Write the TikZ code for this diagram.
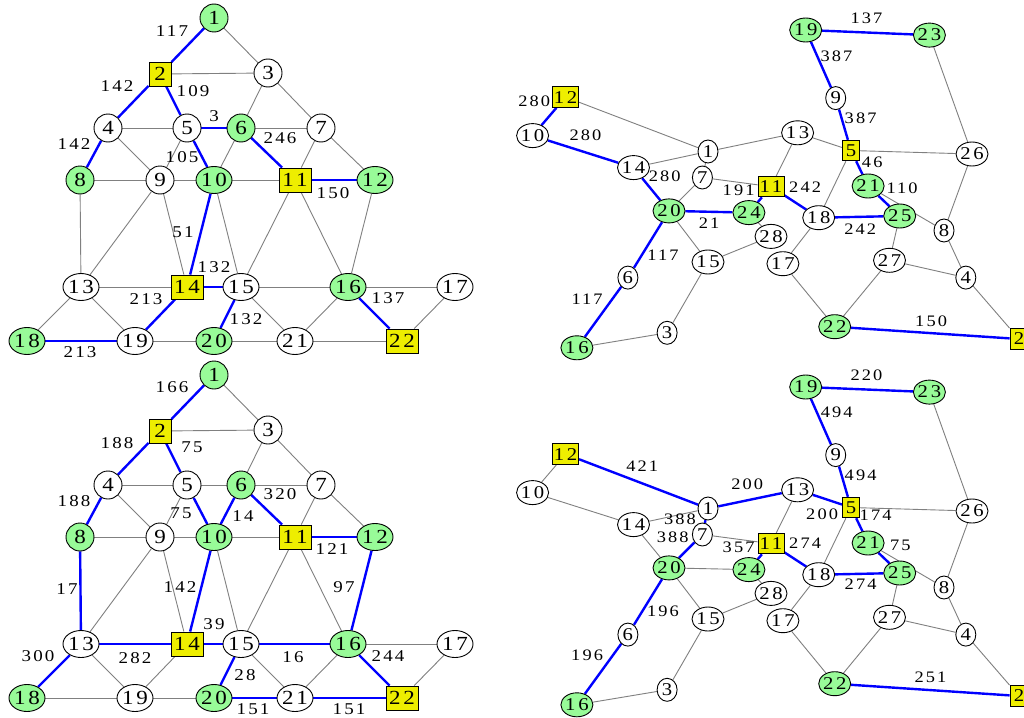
\documentclass[tikz,border=0pt]{standalone}
\usepackage{fontspec}
\setmainfont{Liberation Serif}
\newfontfamily\nfont[FakeStretch=1.15,LetterSpace=15]{Liberation Serif}
\newfontfamily\efont[FakeStretch=1.15,LetterSpace=13]{Liberation Serif}
\usetikzlibrary{shapes.geometric,backgrounds}
\definecolor{pg}{RGB}{152,251,152}
\definecolor{yl}{RGB}{238,238,0}
\definecolor{eg}{RGB}{128,128,128}
\tikzset{
  base/.style={draw=black, line width=0.9pt, inner sep=0pt},
  Lfont/.style={font=\nfont\fontsize{20pt}{20pt}\selectfont},
  Rfont/.style={font=\nfont\fontsize{18pt}{18pt}\selectfont},
  lw/.style={base, Lfont, circle, minimum size=28pt, fill=white},
  lg/.style={lw, fill=pg},
  lwe/.style={base, Lfont, ellipse, minimum width=36pt, minimum height=27pt, fill=white, inner xsep=-1pt},
  lge/.style={lwe, fill=pg},
  lys/.style={base, Lfont, rectangle, minimum width=22pt, minimum height=24pt, fill=yl},
  lyr/.style={lys, minimum width=32pt},
  rw/.style={base, Rfont, ellipse, minimum width=20pt, minimum height=23pt, fill=white, inner xsep=-1.5pt},
  rwe/.style={rw, minimum width=32pt, minimum height=24pt},
  rge/.style={rwe, fill=pg},
  rys/.style={base, Rfont, rectangle, minimum width=17pt, minimum height=20.5pt, fill=yl},
  ryr/.style={rys, minimum width=26pt},
  gedge/.style={draw=eg, line width=0.9pt},
  bedge/.style={draw=blue, line width=2.4pt},
  lab/.style={font=\efont\fontsize{16.5pt}{16.5pt}\selectfont, inner sep=0pt, text=black},
  rlab/.style={font=\efont\fontsize{16pt}{16pt}\selectfont, inner sep=0pt, text=black}
}
\newcommand\LeftNodes[1]{%
  \node[lg]  (#1-1)  at (214,18)  {1};
  \node[lys] (#1-2)  at (160,74)  {2};
  \node[lw]  (#1-3)  at (268,73)  {3};
  \node[lw]  (#1-4)  at (108,128) {4};
  \node[lw]  (#1-5)  at (187,128) {5};
  \node[lg]  (#1-6)  at (241,128) {6};
  \node[lw]  (#1-7)  at (321,128) {7};
  \node[lg]  (#1-8)  at (80,180)  {8};
  \node[lw]  (#1-9)  at (160,180) {9};
  \node[lge] (#1-10) at (214,180) {10};
  \node[lyr] (#1-11) at (295,180) {11};
  \node[lge] (#1-12) at (375,180) {12};
  \node[lwe] (#1-13) at (81,287)  {13};
  \node[lyr] (#1-14) at (187,287) {14};
  \node[lwe] (#1-15) at (241,287) {15};
  \node[lge] (#1-16) at (348,287) {16};
  \node[lwe] (#1-17) at (455,287) {17};
  \node[lge] (#1-18) at (27,341)  {18};
  \node[lwe] (#1-19) at (135,341) {19};
  \node[lge] (#1-20) at (214,341) {20};
  \node[lwe] (#1-21) at (295,341) {21};
  \node[lyr] (#1-22) at (402,341) {22};
}
\newcommand\RightNodes[1]{%
  \node[rge] (#1-19) at (805.7,30)    {19};
  \node[rge] (#1-23) at (929.4,35.1)  {23};
  \node[rw]  (#1-9)  at (835.7,98.1)  {9};
  \node[ryr] (#1-12) at (565.6,97.1)  {12};
  \node[rwe] (#1-10) at (532.6,135.6) {10};
  \node[rwe] (#1-13) at (797.6,132.8) {13};
  \node[rw]  (#1-1)  at (708,151.5)   {1};
  \node[rys] (#1-5)  at (851,150.5)   {5};
  \node[rwe] (#1-26) at (972,154)     {26};
  \node[rwe] (#1-14) at (633.5,167.6) {14};
  \node[rw]  (#1-7)  at (702.4,177.5) {7};
  \node[ryr] (#1-11) at (771,186.6)   {11};
  \node[rge] (#1-21) at (868.1,186)   {21};
  \node[rge] (#1-20) at (669,210.9)   {20};
  \node[rge] (#1-24) at (748.9,212.6) {24};
  \node[rwe] (#1-18) at (818.7,217.7) {18};
  \node[rge] (#1-25) at (899.7,216)   {25};
  \node[rwe] (#1-28) at (771,236.4)   {28};
  \node[rw]  (#1-8)  at (944,230.5)   {8};
  \node[rwe] (#1-15) at (708,262)     {15};
  \node[rwe] (#1-17) at (782.9,263.7) {17};
  \node[rwe] (#1-27) at (889.5,260.3) {27};
  \node[rw]  (#1-4)  at (965.8,277.6) {4};
  \node[rw]  (#1-6)  at (627.9,277.6) {6};
  \node[rw]  (#1-3)  at (667.1,332.8) {3};
  \node[rge] (#1-22) at (834.7,326.7) {22};
  \node[rge] (#1-16) at (576.9,347.8) {16};
  \node[rys, minimum width=18pt, minimum height=21pt] (#1-2) at (1019,339) {2};
}
\begin{document}
\begin{tikzpicture}[x=1pt,y=-1pt]
\useasboundingbox (0,0) rectangle (1024,717);
\begin{pgfonlayer}{background}
  \fill[white] (0,0) rectangle (1024,717);
\end{pgfonlayer}
\clip (0,0) rectangle (1024,717);
% nodes
\LeftNodes{a}
\begin{scope}[yshift=-357pt]\LeftNodes{c}\end{scope}
\RightNodes{b}
\begin{scope}[yshift=-357pt]\RightNodes{d}\end{scope}
% edges
\begin{scope}[on background layer]
  % top left
  \foreach \u/\v in {1/3,2/3,3/6,3/7,4/5,4/9,5/9,6/7,6/10,7/11,7/12,8/9,8/13,9/10,9/13,9/14,10/11,10/15,11/15,11/16,12/16,13/14,13/18,13/19,15/16,15/21,16/17,16/21,17/22,19/20,20/21,21/22}
    \draw[gedge] (a-\u) -- (a-\v);
  \foreach \u/\v in {1/2,2/4,2/5,4/8,5/6,5/10,6/11,10/14,11/12,14/15,14/19,15/20,16/22,18/19}
    \draw[bedge] (a-\u) -- (a-\v);
  % bottom left
  \foreach \u/\v in {1/3,2/3,3/6,3/7,4/5,4/9,5/6,5/9,6/7,7/11,7/12,8/9,9/10,9/13,9/14,10/11,10/15,11/15,11/16,13/19,14/19,15/21,16/17,16/21,17/22,18/19,19/20}
    \draw[gedge] (c-\u) -- (c-\v);
  \foreach \u/\v in {1/2,2/4,2/5,4/8,5/10,6/10,6/11,11/12,8/13,10/14,13/14,14/15,15/16,12/16,13/18,15/20,20/21,21/22,16/22}
    \draw[bedge] (c-\u) -- (c-\v);
  % top right
  \foreach \u/\v in {23/26,12/1,14/1,1/13,13/5,13/11,5/26,5/18,1/7,7/11,7/20,21/8,24/28,28/15,20/15,15/3,3/16,18/17,17/22,22/27,27/25,27/4,4/8,8/26,4/2}
    \draw[gedge] (b-\u) -- (b-\v);
  \foreach \u/\v in {19/23,19/9,9/5,12/10,10/14,14/20,5/21,20/24,24/11,11/18,18/25,21/25,16/6,6/20,22/2}
    \draw[bedge] (b-\u) -- (b-\v);
  % bottom right
  \foreach \u/\v in {12/10,10/14,14/1,23/26,5/26,13/11,5/18,7/11,14/20,20/24,24/28,28/15,20/15,15/3,3/16,18/17,17/22,22/27,27/25,27/4,4/8,8/26,21/8,4/2}
    \draw[gedge] (d-\u) -- (d-\v);
  \foreach \u/\v in {12/1,1/13,13/5,19/9,9/5,19/23,5/21,21/25,11/18,18/25,11/24,1/7,7/20,20/6,6/16,22/2}
    \draw[bedge] (d-\u) -- (d-\v);
\end{scope}
% edge labels, top left
\node[lab] (al1)  at (172,31)  {117};
\node[lab] (al2)  at (117,86)  {142};
\node[lab] (al3)  at (193,91)  {109};
\node[lab] (al4)  at (214,116) {3};
\node[lab] (al5)  at (280,138) {246};
\node[lab] (al6)  at (74,144)  {142};
\node[lab] (al7)  at (182,157) {105};
\node[lab] (al8)  at (333,193) {150};
\node[lab] (al9)  at (183,232) {51};
\node[lab] (al10) at (214,267) {132};
\node[lab] (al11) at (146,299) {213};
\node[lab] (al12) at (388,298) {137};
\node[lab] (al13) at (246,319) {132};
\node[lab] (al14) at (80,352)  {213};
% edge labels, bottom left
\node[lab] (cl1)  at (172,387) {166};
\node[lab] (cl2)  at (117,443) {188};
\node[lab] (cl3)  at (192,447) {75};
\node[lab] (cl4)  at (280,494) {320};
\node[lab] (cl5)  at (74,501)  {188};
\node[lab] (cl6)  at (181,513) {75};
\node[lab] (cl7)  at (243,516) {14};
\node[lab] (cl8)  at (332,549) {121};
\node[lab] (cl9)  at (67,589)  {17};
\node[lab] (cl10) at (180,587) {142};
\node[lab] (cl11) at (344,587) {97};
\node[lab] (cl12) at (214,624) {39};
\node[lab] (cl13) at (38,656)  {300};
\node[lab] (cl14) at (135,658) {282};
\node[lab] (cl15) at (293,657) {16};
\node[lab] (cl16) at (388,656) {244};
\node[lab] (cl17) at (245,675) {28};
\node[lab] (cl18) at (253,709) {151};
\node[lab] (cl19) at (349,709) {151};
% edge labels, top right
\node[rlab] (bl1)  at (866.4,18.7)  {137};
\node[rlab] (bl2)  at (836.4,56.2)  {387};
\node[rlab] (bl3)  at (860.6,118.5) {387};
\node[rlab] (bl4)  at (534.3,101.5) {280};
\node[rlab] (bl5)  at (585.4,135.6) {280};
\node[rlab] (bl6)  at (664.7,176.1) {280};
\node[rlab] (bl7)  at (872.2,162.5) {46};
\node[rlab] (bl8)  at (805.1,187.3) {242};
\node[rlab] (bl9)  at (902.1,188.7) {110};
\node[rlab] (bl10) at (738.6,190.4) {191};
\node[rlab] (bl11) at (709,222.8)   {21};
\node[rlab] (bl12) at (860.2,229.6) {242};
\node[rlab] (bl13) at (663,255.1)   {117};
\node[rlab] (bl14) at (587.1,299.4) {117};
\node[rlab] (bl15) at (931.1,321.6) {150};
% edge labels, bottom right
\node[rlab] (dl1)  at (866.4,375.7) {220};
\node[rlab] (dl2)  at (836.7,412.5) {494};
\node[rlab] (dl3)  at (642.2,466.3) {421};
\node[rlab] (dl4)  at (860.6,474.8) {494};
\node[rlab] (dl5)  at (747.2,484.7) {200};
\node[rlab] (dl6)  at (822.1,514)   {200};
\node[rlab] (dl7)  at (875.6,515.7) {174};
\node[rlab] (dl8)  at (680,519.3)   {388};
\node[rlab] (dl9)  at (672.7,537.3) {388};
\node[rlab] (dl10) at (805.1,543.6) {274};
\node[rlab] (dl11) at (900.4,545.3) {75};
\node[rlab] (dl12) at (738.6,547.7) {357};
\node[rlab] (dl13) at (860.6,584.5) {274};
\node[rlab] (dl14) at (663,611.1)   {196};
\node[rlab] (dl15) at (587.1,655.3) {196};
\node[rlab] (dl16) at (930.4,677.5) {251};
\end{tikzpicture}
\end{document}
